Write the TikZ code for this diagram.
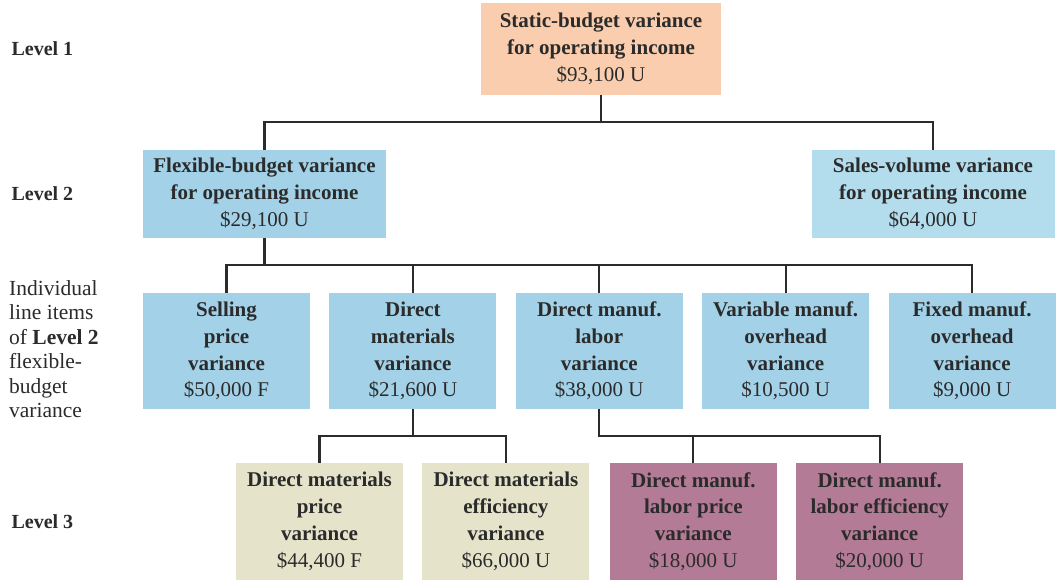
\documentclass[tikz,border=0pt]{standalone}
\usepackage{fontspec}
\setmainfont{Liberation Serif}
\usetikzlibrary{positioning, calc}
\definecolor{peach}{HTML}{F9CDAD}
\definecolor{flexblue}{HTML}{A3D2E8}
\definecolor{salesblue}{HTML}{B3DCEC}
\definecolor{beige}{HTML}{E5E3CA}
\definecolor{mauve}{HTML}{B37B95}
\definecolor{inkgray}{HTML}{2B2B2B}

\begin{document}
\begin{tikzpicture}[x=1pt, y=-1pt,
  vbox/.style={rectangle, inner sep=0pt, align=center, text=inkgray,
    font=\fontsize{21}{26.8}\selectfont},
  topbox/.style={vbox, fill=peach, minimum width=240pt, minimum height=92pt},
  midbox/.style={vbox, fill=flexblue, minimum width=243pt, minimum height=88pt},
  itembox/.style={vbox, fill=flexblue, minimum width=167pt, minimum height=116pt},
  subbox/.style={vbox, minimum width=167pt, minimum height=117pt},
  levellabel/.style={anchor=west, text=inkgray, font=\fontsize{20}{24}\selectfont\bfseries},
  conn/.style={draw=inkgray, line width=2.2pt}]

  \useasboundingbox (0,0) rectangle (1059,582);

  % level 1
  \node [topbox] (static) at (601,49) {\textbf{Static-budget variance}\\
    \textbf{for operating income}\\ \$93,100 U};

  % level 2
  \node [midbox] (flex) at (264.5,194) {\textbf{Flexible-budget variance}\\
    \textbf{for operating income}\\ \$29,100 U};
  \node [midbox, fill=salesblue] (sales) at (933,194) {\textbf{Sales-volume variance}\\
    \textbf{for operating income}\\ \$64,000 U};

  % line items of the flexible-budget variance
  \node [itembox] (sell) at (226.5,351) {\textbf{Selling}\\ \textbf{price}\\
    \textbf{variance}\\ \$50,000 F};
  \node [itembox, right=19pt of sell] (dmat) {\textbf{Direct}\\ \textbf{materials}\\
    \textbf{variance}\\ \$21,600 U};
  \node [itembox, right=19pt of dmat] (dlab) {\textbf{Direct manuf.}\\ \textbf{labor}\\
    \textbf{variance}\\ \$38,000 U};
  \node [itembox, right=19pt of dlab] (varoh) {\textbf{Variable manuf.}\\ \textbf{overhead}\\
    \textbf{variance}\\ \$10,500 U};
  \node [itembox, right=19pt of varoh] (fixoh) {\textbf{Fixed manuf.}\\ \textbf{overhead}\\
    \textbf{variance}\\ \$9,000 U};

  % level 3
  \node [subbox, fill=beige] (dmprice) at (319.5,521.5) {\textbf{Direct materials}\\
    \textbf{price}\\ \textbf{variance}\\ \$44,400 F};
  \node [subbox, fill=beige, right=19pt of dmprice] (dmeff) {\textbf{Direct materials}\\
    \textbf{efficiency}\\ \textbf{variance}\\ \$66,000 U};
  \node [subbox, fill=mauve, right=20pt of dmeff] (dlprice) {\textbf{Direct manuf.}\\
    \textbf{labor price}\\ \textbf{variance}\\ \$18,000 U};
  \node [subbox, fill=mauve, right=19pt of dlprice] (dleff) {\textbf{Direct manuf.}\\
    \textbf{labor efficiency}\\ \textbf{variance}\\ \$20,000 U};

  % row labels
  \node [levellabel] (lab1) at (8,49) {Level 1};
  \node [levellabel] (lab2) at (8,194) {Level 2};
  \node [levellabel] (lab3) at (8,522) {Level 3};
  \node [anchor=north west, align=left, inner sep=0pt, text=inkgray,
    font=\fontsize{21.5}{24.5}\selectfont] (labitems) at (9,280)
    {Individual\\ line items\\ of \textbf{Level 2}\\ flexible-\\ budget\\ variance};

  % connectors
  \draw [conn] (static.south) -- ++(0,27) coordinate (j1);
  \draw [conn] (flex.north) |- (j1) -| (sales.north);

  \draw [conn] (flex.south) -- ++(0,27) coordinate (j2);
  \draw [conn] (sell.north) |- (j2) -| (fixoh.north);
  \foreach \n in {dmat, dlab, varoh}
    \draw [conn] (\n.north) -- (\n.north |- j2);

  \draw [conn] (dmat.south) -- ++(0,27) coordinate (j3);
  \draw [conn] (dmprice.north) |- (j3) -| (dmeff.north);

  \draw [conn] (dlab.south) -- ++(0,27) -| (dleff.north);
  \draw [conn] (dlprice.north) -- ++(0,-27);
\end{tikzpicture}
\end{document}
